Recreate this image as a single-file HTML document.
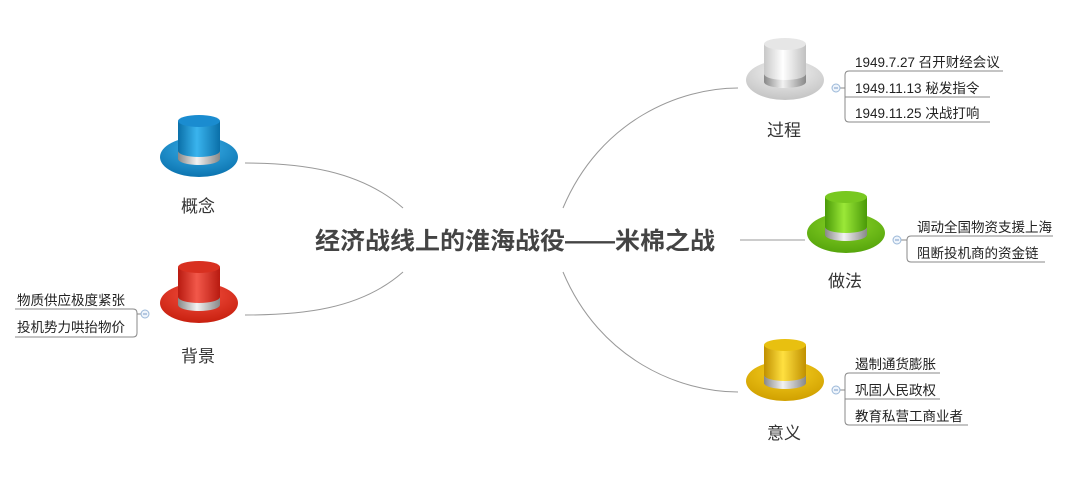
<!DOCTYPE html>
<html><head><meta charset="utf-8"><style>
html,body{margin:0;padding:0;background:#fff;}
svg text{font-family:"Liberation Sans","Noto Sans CJK SC",sans-serif;}
</style></head><body>
<svg width="1073" height="488" viewBox="0 0 1073 488" xmlns="http://www.w3.org/2000/svg">
<defs>
<linearGradient id="cb" x1="0" x2="1"><stop offset="0" stop-color="#0a6fa8"/><stop offset=".45" stop-color="#3ab4ee"/><stop offset="1" stop-color="#0a6fa8"/></linearGradient>
<radialGradient id="bb" cx=".5" cy=".3" r=".7"><stop offset="0" stop-color="#3ab0ea"/><stop offset="1" stop-color="#0c74b0"/></radialGradient>
<linearGradient id="cr" x1="0" x2="1"><stop offset="0" stop-color="#b81a10"/><stop offset=".45" stop-color="#f2584a"/><stop offset="1" stop-color="#b81a10"/></linearGradient>
<radialGradient id="br" cx=".5" cy=".3" r=".7"><stop offset="0" stop-color="#f45040"/><stop offset="1" stop-color="#c8200f"/></radialGradient>
<linearGradient id="cw" x1="0" x2="1"><stop offset="0" stop-color="#c8c8c8"/><stop offset=".45" stop-color="#ffffff"/><stop offset="1" stop-color="#c0c0c0"/></linearGradient>
<radialGradient id="bw" cx=".5" cy=".3" r=".7"><stop offset="0" stop-color="#f4f4f4"/><stop offset="1" stop-color="#c4c4c4"/></radialGradient>
<linearGradient id="cg" x1="0" x2="1"><stop offset="0" stop-color="#4a9a08"/><stop offset=".45" stop-color="#9be838"/><stop offset="1" stop-color="#4a9a08"/></linearGradient>
<radialGradient id="bg" cx=".5" cy=".3" r=".7"><stop offset="0" stop-color="#8ad428"/><stop offset="1" stop-color="#56a50c"/></radialGradient>
<linearGradient id="cy" x1="0" x2="1"><stop offset="0" stop-color="#c09000"/><stop offset=".45" stop-color="#ffe040"/><stop offset="1" stop-color="#c09000"/></linearGradient>
<radialGradient id="by" cx=".5" cy=".3" r=".7"><stop offset="0" stop-color="#f8d020"/><stop offset="1" stop-color="#d0a000"/></radialGradient>
<linearGradient id="band" x1="0" x2="1"><stop offset="0" stop-color="#888"/><stop offset=".45" stop-color="#f2f2f2"/><stop offset="1" stop-color="#888"/></linearGradient>
</defs>
<g fill="none" stroke="#999" stroke-width="1">
<path d="M403,208 C360,170 300,163 245,163"/>
<path d="M403,272 C360,310 300,315 245,315"/>
<path d="M563,208 C600,120 680,88 738,88"/>
<path d="M740,240 L805,240"/>
<path d="M563,272 C600,360 680,392 738,392"/>
</g>
<text x="515" y="249" text-anchor="middle" font-size="24" font-weight="bold" fill="#444" textLength="400" lengthAdjust="spacingAndGlyphs">经济战线上的淮海战役——米棉之战</text>
<g transform="translate(199,157)">
<ellipse cx="0" cy="0" rx="39" ry="20" fill="url(#bb)"/>
<path d="M-21,-36 L-21,2 A21,6 0 0 0 21,2 L21,-36 Z" fill="url(#cb)"/>
<ellipse cx="0" cy="-36" rx="21" ry="6" fill="#1a8cd0"/>
<path d="M-21,-6 L-21,2 A21,6 0 0 0 21,2 L21,-6 A21,6 0 0 1 -21,-6 Z" fill="url(#band)"/>
</g>
<g transform="translate(199,303)">
<ellipse cx="0" cy="0" rx="39" ry="20" fill="url(#br)"/>
<path d="M-21,-36 L-21,2 A21,6 0 0 0 21,2 L21,-36 Z" fill="url(#cr)"/>
<ellipse cx="0" cy="-36" rx="21" ry="6" fill="#d83020"/>
<path d="M-21,-6 L-21,2 A21,6 0 0 0 21,2 L21,-6 A21,6 0 0 1 -21,-6 Z" fill="url(#band)"/>
</g>
<g transform="translate(785,80)">
<ellipse cx="0" cy="0" rx="39" ry="20" fill="url(#bw)"/>
<path d="M-21,-36 L-21,2 A21,6 0 0 0 21,2 L21,-36 Z" fill="url(#cw)"/>
<ellipse cx="0" cy="-36" rx="21" ry="6" fill="#e6e6e6"/>
<path d="M-21,-6 L-21,2 A21,6 0 0 0 21,2 L21,-6 A21,6 0 0 1 -21,-6 Z" fill="url(#band)"/>
</g>
<g transform="translate(846,233)">
<ellipse cx="0" cy="0" rx="39" ry="20" fill="url(#bg)"/>
<path d="M-21,-36 L-21,2 A21,6 0 0 0 21,2 L21,-36 Z" fill="url(#cg)"/>
<ellipse cx="0" cy="-36" rx="21" ry="6" fill="#78c820"/>
<path d="M-21,-6 L-21,2 A21,6 0 0 0 21,2 L21,-6 A21,6 0 0 1 -21,-6 Z" fill="url(#band)"/>
</g>
<g transform="translate(785,381)">
<ellipse cx="0" cy="0" rx="39" ry="20" fill="url(#by)"/>
<path d="M-21,-36 L-21,2 A21,6 0 0 0 21,2 L21,-36 Z" fill="url(#cy)"/>
<ellipse cx="0" cy="-36" rx="21" ry="6" fill="#e8c010"/>
<path d="M-21,-6 L-21,2 A21,6 0 0 0 21,2 L21,-6 A21,6 0 0 1 -21,-6 Z" fill="url(#band)"/>
</g>
<g font-size="17" fill="#333" text-anchor="middle">
<text x="198" y="212">概念</text>
<text x="198" y="362">背景</text>
<text x="784" y="136">过程</text>
<text x="845" y="287">做法</text>
<text x="784" y="439">意义</text>
</g>
<g fill="none" stroke="#888" stroke-width="1">
<path d="M1003,71 H849 Q845,71 845,75 V118 Q845,122 849,122 H990"/><path d="M845,97 H990"/>
<path d="M838,88 H845"/>
<path d="M1053,236 H911 Q907,236 907,240 V258 Q907,262 911,262 H1045"/><path d="M899,240 H907"/>
<path d="M940,373 H849 Q845,373 845,377 V421 Q845,425 849,425 H968"/><path d="M845,399 H940"/><path d="M838,390 H845"/>
<path d="M15,309 H133 Q137,309 137,313 V333 Q137,337 133,337 H15"/><path d="M137,314 H143"/>
</g>
<g fill="#eef4fb" stroke="#9bb8d8" stroke-width="1">
<circle cx="836" cy="88" r="4"/><circle cx="897" cy="240" r="4"/><circle cx="836" cy="390" r="4"/><circle cx="145" cy="314" r="4"/>
</g>
<g stroke="#7a9cc8" stroke-width="1">
<path d="M834,88 H838"/><path d="M895,240 H899"/><path d="M834,390 H838"/><path d="M143,314 H147"/>
</g>
<g font-size="13.5" fill="#222">
<text x="855" y="67">1949.7.27 召开财经会议</text>
<text x="855" y="93">1949.11.13 秘发指令</text>
<text x="855" y="118">1949.11.25 决战打响</text>
<text x="917" y="232">调动全国物资支援上海</text>
<text x="917" y="258">阻断投机商的资金链</text>
<text x="855" y="369">遏制通货膨胀</text>
<text x="855" y="395">巩固人民政权</text>
<text x="855" y="421">教育私营工商业者</text>
<text x="17" y="305">物质供应极度紧张</text>
<text x="17" y="332">投机势力哄抬物价</text>
</g>
</svg>
</body></html>
